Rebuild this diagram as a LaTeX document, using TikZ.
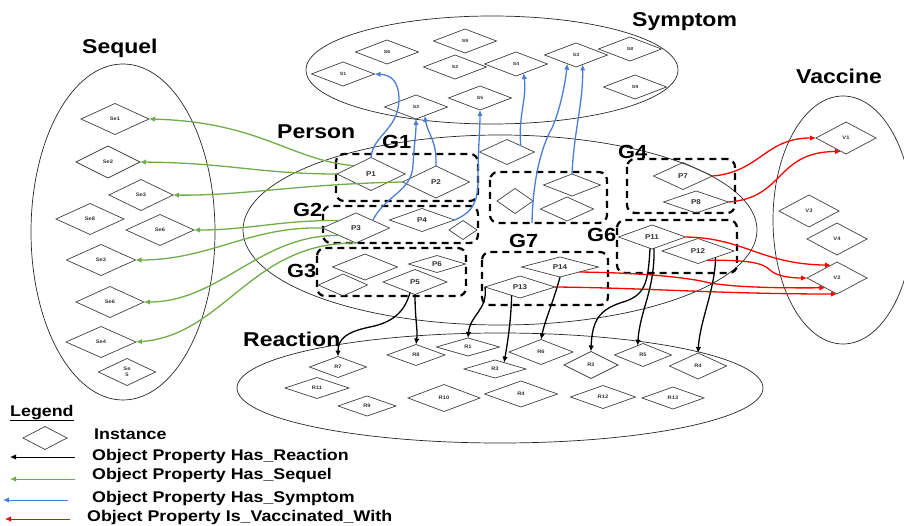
\documentclass[tikz,border=0pt]{standalone}
\usepackage{fontspec}
\setmainfont{Liberation Sans}[FakeStretch=1.15]
\usepackage{tikz}
\usetikzlibrary{arrows.meta,shapes.geometric}

\definecolor{seqgreen}{RGB}{112,173,71}
\definecolor{symblue}{RGB}{74,126,214}
\definecolor{vacred}{RGB}{255,0,0}

\begin{document}
\begin{tikzpicture}[
  x=1pt, y=-1pt,
  inst/.style={diamond, draw=black!75, line width=0.7pt, inner sep=0pt, outer sep=0pt, align=center,
    font=\fontsize{5}{5.5}\selectfont\bfseries, text=black!80},
  sz/.style 2 args={minimum width=#1pt, minimum height=#2pt},
  sym/.style={inst, sz={63}{24}, font=\fontsize{4.5}{5}\selectfont\bfseries},
  seq/.style={inst, sz={68}{31}},
  pers/.style={inst, font=\fontsize{7}{8}\selectfont\bfseries},
  vac/.style={inst, sz={60}{32}},
  rea/.style={inst},
  cls/.style={draw=black!85, line width=0.7pt},
  grp/.style={draw, line width=2.2pt, dash pattern=on 7pt off 5pt, rounded corners=8pt},
  title/.style={anchor=base west, inner sep=0pt, font=\fontsize{20}{24}\selectfont\bfseries},
  glab/.style={title, font=\fontsize{19}{22}\selectfont\bfseries},
  leg/.style={anchor=base west, inner sep=0pt, font=\fontsize{15.5}{18}\selectfont\bfseries},
  rel/.style={line width=1.3pt, -{Latex[length=6pt,width=5.5pt]}},
  hasrea/.style={rel, black},
  hasseq/.style={rel, seqgreen},
  hassym/.style={rel, symblue},
  isvac/.style={rel, vacred}
]
\useasboundingbox (0,0) rectangle (904,526);

% classes
\draw[cls] (492,70) ellipse [x radius=186pt, y radius=54pt];
\draw[cls] (123,232) ellipse [x radius=92pt, y radius=168pt];
\draw[cls] (500,230) ellipse [x radius=257pt, y radius=95pt];
\draw[cls] (843,220) ellipse [x radius=70pt, y radius=124pt];
\draw[cls] (500,388) ellipse [x radius=263pt, y radius=55pt];

\node[title] (tsym) at (632,27) {Symptom};
\node[title] (tseq) at (82,54) {Sequel};
\node[title] (tper) at (277,139) {Person};
\node[title] (tvac) at (796,84) {Vaccine};
\node[title] (trea) at (243,346) {Reaction};

% groups
\draw[grp] (336,154) rectangle (478,201);
\draw[grp] (323,206) rectangle (478,243);
\draw[grp] (317,248) rectangle (466,296);
\draw[grp] (490,172) rectangle (607,223);
\draw[grp] (482,252) rectangle (608,305);
\draw[grp] (627,159) rectangle (735,213);
\draw[grp] (617,220) rectangle (737,273);

\node[glab] (g1) at (382,149) {G1};
\node[glab] (g2) at (293,217) {G2};
\node[glab] (g3) at (287,278) {G3};
\node[glab] (g4) at (618,159) {G4};
\node[glab] (g6) at (587,242) {G6};
\node[glab] (g7) at (509,248) {G7};

% symptoms
\node[sym] (S6) at (387,52) {S6};
\node[sym] (S9a) at (465,41) {S9};
\node[sym] (S1) at (343,74) {S1};
\node[sym] (S2a) at (455,67) {S2};
\node[sym] (S4) at (516,64) {S4};
\node[sym] (S3) at (576,55) {S3};
\node[sym] (S8) at (630,49) {S8};
\node[sym] (S9b) at (635,87) {S9};
\node[sym] (S5) at (480,98) {S5};
\node[sym] (S2b) at (416,107) {S2};

% sequels
\node[seq] (Se1) at (115,119) {Se1};
\node[seq, sz={64}{32}] (Se2) at (108,162) {Se2};
\node[seq, sz={64}{31}] (Se3a) at (141,195) {Se3};
\node[seq] (Se8) at (90,219) {Se8};
\node[seq] (Se6a) at (160,230) {Se6};
\node[seq, sz={69}{31}] (Se3b) at (101,260) {Se3};
\node[seq] (Se6b) at (110,302) {Se6};
\node[seq, sz={70}{31}] (Se4) at (101,342) {Se4};
\node[seq, sz={57}{27}] (Se5) at (127,372) {Se\\5};

% persons
\node[pers, sz={68}{33}] (P1) at (371,174) {P1};
\node[pers, sz={67}{32}] (P2) at (436,182) {P2};
\node[pers, sz={67}{30}] (P3) at (356,228) {P3};
\node[pers, sz={65}{23}] (P4) at (422,220) {P4};
\node[pers, sz={28}{19}] (Pb) at (463,230) {};
\node[pers, sz={65}{26}] (Pd) at (365,267) {};
\node[pers, sz={57}{17}] (P6) at (437,264) {P6};
\node[pers, sz={49}{22}] (Pe) at (343,285) {};
\node[pers, sz={64}{25}] (P5) at (415,282) {P5};
\node[pers, sz={55}{25}] (Pa) at (507,152) {};
\node[pers, sz={36}{25}] (Pf) at (515,201) {};
\node[pers, sz={57}{22}] (Pc) at (572,185) {};
\node[pers, sz={53}{24}] (Pg) at (567,209) {};
\node[pers, sz={59}{27}] (P7) at (683,176) {P7};
\node[pers, sz={65}{22}] (P8) at (696,202) {P8};
\node[pers, sz={67}{24}] (P11) at (652,237) {P11};
\node[pers, sz={72}{25}] (P12) at (698,251) {P12};
\node[pers, sz={77}{20}] (P14) at (560,267) {P14};
\node[pers, sz={70}{22}] (P13) at (520,287) {P13};

% vaccines
\node[vac] (V1) at (846,138) {V1};
\node[vac] (V3) at (809,211) {V3};
\node[vac] (V4) at (837,239) {V4};
\node[vac] (V2) at (837,278) {V2};

% reactions
\node[rea, sz={57}{21}] (R7) at (338,367) {R7};
\node[rea, sz={58}{21}] (R8) at (416,355) {R8};
\node[rea, sz={63}{18}] (R1) at (468,347) {R1};
\node[rea, sz={62}{18}] (R3) at (495,369) {R3};
\node[rea, sz={64}{25}] (R6) at (541,352) {R6};
\node[rea, sz={54}{27}] (R2) at (591,365) {R2};
\node[rea, sz={57}{23}] (R5) at (643,355) {R5};
\node[rea, sz={57}{26}] (R4a) at (698,366) {R4};
\node[rea, sz={64}{21}] (R11) at (317,388) {R11};
\node[rea, sz={58}{20}] (R9) at (367,406) {R9};
\node[rea, sz={72}{27}] (R10) at (444,398) {R10};
\node[rea, sz={73}{26}] (R4b) at (521,394) {R4};
\node[rea, sz={65}{23}] (R12) at (603,397) {R12};
\node[rea, sz={62}{22}] (R13) at (673,398) {R13};

% has sequel
\draw[hasseq] (P1.north west) .. controls (290,160) and (260,122) .. (Se1.east);
\draw[hasseq] (P1.west) .. controls (260,174) and (230,163) .. (Se2.east);
\draw[hasseq] (P2.west) .. controls (300,184) and (240,196) .. (Se3a.east);
\draw[hasseq] (P3.north west) .. controls (280,220) and (250,230) .. (Se6a.east);
\draw[hasseq] (P3.west) .. controls (250,226) and (210,260) .. (Se3b.east);
\draw[hasseq] (P3.south west) .. controls (260,234) and (220,302) .. (Se6b.east);
\draw[hasseq] (P3.south) .. controls (250,242) and (225,335) .. (Se4.east);

% has symptom
\coordinate (g5foot) at (532,223);
\draw[hassym] (P1.north) .. controls (373,135) and (398,130) .. (399,100) .. controls (399,82) and (392,75) .. (S1.east);
\draw[hassym] (P3.north east) .. controls (385,195) and (412,192) .. (413,165) .. controls (414,145) and (416,135) .. (S2b.south);
\draw[hassym] (P2.north) .. controls (437,140) and (428,135) .. (S2b.-45);
\draw[hassym] (P4.east) .. controls (474,212) and (478,200) .. (478,180) .. controls (478,150) and (480,130) .. (S5.south);
\draw[hassym] (Pa.north east) .. controls (518,115) and (527,100) .. (S4.-50);
\draw[hassym] (g5foot) .. controls (533,170) and (545,140) .. (552,128) .. controls (560,110) and (565,85) .. (S3.-135);
\draw[hassym] (Pc.north) .. controls (574,130) and (583,105) .. (S3.-55);

% is vaccinated with
\draw[isvac] (P7.east) .. controls (760,172) and (765,138) .. (V1.west);
\draw[isvac] (P8.east) .. controls (785,198) and (775,152) .. (V1.-110);
\draw[isvac] (P11.east) .. controls (745,238) and (760,264) .. (V2.115);
\draw[isvac] (P12.-45) .. controls (745,260) and (762,262) .. (770,270) .. controls (776,276) and (790,278) .. (V2.west);
\draw[isvac] (P14.south east) .. controls (650,273) and (690,278) .. (710,283) .. controls (740,288) and (790,288) .. (V2.220);
\draw[isvac] (P13.east) .. controls (650,288) and (720,294) .. (V2.south);

% has reaction
\draw[hasrea] (P5.-115) .. controls (405,310) and (395,322) .. (370,327) .. controls (345,332) and (338,340) .. (R7.north);
\draw[hasrea] (P5.south) .. controls (415,320) and (418,330) .. (R8.north);
\draw[hasrea] (P13.west) .. controls (488,310) and (470,315) .. (R1.north);
\draw[hasrea] (P13.-135) .. controls (511,320) and (508,340) .. (R3.35);
\draw[hasrea] (P14.south) .. controls (554,300) and (545,320) .. (R6.north);
\draw[hasrea] (P11.-100) .. controls (648,285) and (645,296) .. (620,303) .. controls (600,310) and (592,320) .. (R2.north);
\draw[hasrea] (P11.-80) .. controls (655,290) and (640,310) .. (R5.120);
\draw[hasrea] (P12.-20) .. controls (715,290) and (700,320) .. (R4a.north);

% legend
\node[leg] (legtitle) at (10,416) {\underline{Legend}};
\node[inst, sz={44}{23}] (leginst) at (45,438) {};
\node[leg] (legi) at (94,439) {Instance};
\node[leg] (legrea) at (92,460) {Object Property Has\_Reaction};
\node[leg] (legseq) at (92,479) {Object Property Has\_Sequel};
\node[leg] (legsym) at (92,502) {Object Property Has\_Symptom};
\node[leg] (legvac) at (87,521) {Object Property Is\_Vaccinated\_With};
\coordinate (lr0) at (75,457); \coordinate (lr1) at (10,457);
\coordinate (lg0) at (75,479); \coordinate (lg1) at (10,479);
\coordinate (lb0) at (68,500); \coordinate (lb1) at (3,500);
\coordinate (lv0) at (70,519); \coordinate (lv1) at (5,519);
\draw[hasrea, line width=1pt] (lr0) -- (lr1);
\draw[hasseq, line width=1pt] (lg0) -- (lg1);
\draw[hassym, line width=1pt] (lb0) -- (lb1);
\draw[isvac, line width=1pt] (lv0) -- (lv1);
\end{tikzpicture}
\end{document}
